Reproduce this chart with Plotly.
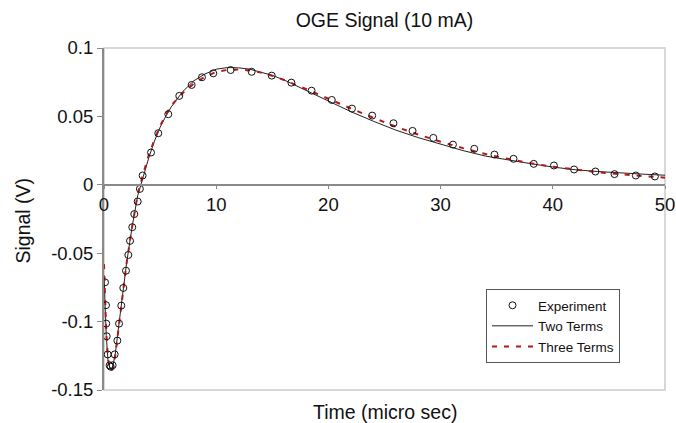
import plotly.graph_objects as go

# Experimental data (time in micro sec, signal in V)
exp_t = [0.09, 0.18, 0.2, 0.24, 0.33, 0.5, 0.6, 0.77, 0.95, 1.19, 1.34, 1.54, 1.72, 1.96,
         2.17, 2.32, 2.52, 2.7, 3.0, 3.2, 3.44, 4.19, 4.84, 5.73, 6.71, 7.81, 8.73, 9.74,
         11.29, 13.16, 14.95, 16.7, 18.5, 20.3, 22.1, 23.9, 25.8, 27.5, 29.35, 31.1, 33.0,
         34.8, 36.5, 38.3, 40.1, 41.9, 43.8, 45.5, 47.4, 49.1]
exp_v = [-0.0713, -0.088, -0.1015, -0.1107, -0.124, -0.132, -0.133, -0.1319, -0.124, -0.1139,
         -0.1015, -0.0883, -0.0754, -0.0628, -0.0513, -0.041, -0.031, -0.0214, -0.0122, -0.003,
         0.0068, 0.0236, 0.0377, 0.0516, 0.065, 0.073, 0.0786, 0.0815, 0.0839, 0.0826, 0.0798,
         0.0747, 0.0688, 0.062, 0.0557, 0.0506, 0.045, 0.0394, 0.0343, 0.0294, 0.0263, 0.0221,
         0.019, 0.0153, 0.0141, 0.0112, 0.0097, 0.0078, 0.0068, 0.0061]

# Fit curves
fit_t = [0, 0.1, 0.2, 0.35, 0.55, 0.75, 1.0, 1.3, 1.6, 2.0, 2.5, 3.0, 3.5, 4.0, 4.5, 5.0,
         5.5, 6.0, 7.0, 8.0, 9.0, 10.0, 11.0, 12.0, 13.0, 14.0, 15.0, 16.0, 18.0, 20.0,
         22.0, 24.0, 26.0, 28.0, 30.0, 32.0, 34.0, 36.0, 38.0, 40.0, 42.0, 44.0, 46.0,
         48.0, 50.0]
two_terms = [-0.066, -0.09, -0.11, -0.128, -0.135, -0.134, -0.124, -0.104, -0.083, -0.058,
             -0.031, -0.008, 0.006, 0.02, 0.032, 0.042, 0.05, 0.057, 0.068, 0.076, 0.081,
             0.0845, 0.0857, 0.0855, 0.0845, 0.0825, 0.08, 0.0768, 0.069, 0.061, 0.0535,
             0.0465, 0.04, 0.0345, 0.0295, 0.025, 0.021, 0.018, 0.0155, 0.013, 0.011,
             0.0097, 0.0086, 0.0078, 0.007]
three_terms = [-0.058, -0.085, -0.108, -0.127, -0.136, -0.135, -0.125, -0.105, -0.084, -0.058,
               -0.031, -0.007, 0.008, 0.022, 0.033, 0.043, 0.051, 0.058, 0.067, 0.074, 0.079,
               0.0825, 0.084, 0.0843, 0.0835, 0.082, 0.0797, 0.0768, 0.07, 0.0628, 0.0558,
               0.049, 0.0425, 0.0368, 0.0315, 0.0268, 0.0225, 0.019, 0.0158, 0.0132, 0.011,
               0.0092, 0.0077, 0.0063, 0.0052]

x_ticks = [0, 10, 20, 30, 40, 50]
y_ticks = [0.1, 0.05, 0, -0.05, -0.1, -0.15]
y_tick_text = ["0.1", "0.05", "0", "-0.05", "-0.1", "-0.15"]

FONT = "Liberation Sans, Arial, sans-serif"

fig = go.Figure()
fig.add_trace(go.Scatter(x=fit_t, y=two_terms, mode="lines", name="Two Terms", legendrank=2,
                         line=dict(color="#222222", width=1)))
fig.add_trace(go.Scatter(x=fit_t, y=three_terms, mode="lines", name="Three Terms", legendrank=3,
                         line=dict(color="#b31818", width=2, dash="5px,7px")))
fig.add_trace(go.Scatter(x=exp_t, y=exp_v, mode="markers", name="Experiment", legendrank=1,
                         marker=dict(symbol="circle-open", size=7, color="#111111",
                                     line=dict(width=1, color="#111111"))))

y_min, y_max = -0.15, 0.1
W, H = 676, 423
L, R, T, B = 104, 11, 48, 33
plot_w, plot_h = W - L - R, H - T - B

fig.update_layout(
    width=W, height=H, autosize=False,
    margin=dict(l=L, r=R, t=T, b=B, autoexpand=False),
    paper_bgcolor="white", plot_bgcolor="white",
    font=dict(family=FONT, color="#111111"),
    title=dict(text="OGE Signal (10 mA)", xref="container", x=(L + plot_w / 2) / W,
               xanchor="center", yref="container", y=1 - 20 / H, yanchor="middle",
               font=dict(size=19.5, family=FONT)),
    showlegend=True,
    legend=dict(x=(486 - L) / plot_w, y=(H - B - 289) / plot_h, xanchor="left", yanchor="top",
                bordercolor="#555555", borderwidth=1, bgcolor="white", itemwidth=41,
                font=dict(size=13.5, family=FONT), tracegroupgap=0),
    xaxis=dict(range=[0, 50], tickvals=x_ticks, ticks="outside", ticklen=3,
               tickcolor="#8a8a8a", showline=True, linecolor="#8a8a8a", linewidth=1.5,
               showgrid=False, zeroline=False, anchor="free", automargin=False,
               position=(0 - y_min) / (y_max - y_min), ticklabeloverflow="allow",
               tickfont=dict(size=18.5, family=FONT)),
    yaxis=dict(range=[y_min, y_max], tickvals=y_ticks, ticktext=y_tick_text,
               ticks="outside", ticklen=5, tickcolor="#8a8a8a", showline=True,
               linecolor="#8a8a8a", linewidth=2, showgrid=False, zeroline=False,
               automargin=False, tickfont=dict(size=18.5, family=FONT)),
)

# plot area border
fig.add_shape(type="rect", xref="paper", yref="paper", x0=0, x1=1, y0=0, y1=1,
              line=dict(color="#cccccc", width=1.5), layer="below")

fig.add_annotation(text="Time (micro sec)", xref="paper", yref="paper", x=0.5,
                   y=-22 / plot_h, xanchor="center", yanchor="middle", showarrow=False,
                   font=dict(size=19.5, family=FONT))
fig.add_annotation(text="Signal (V)", xref="paper", yref="paper", x=-81.5 / plot_w,
                   y=(H - B - 221) / plot_h, xanchor="center", yanchor="middle",
                   textangle=-90, showarrow=False, font=dict(size=19.5, family=FONT))

# remove the default page margin so the figure fills the window exactly
fig.write_html("out.html", config={"displayModeBar": False},
               post_script="document.body.style.margin='0px';document.body.style.overflow='hidden';")
